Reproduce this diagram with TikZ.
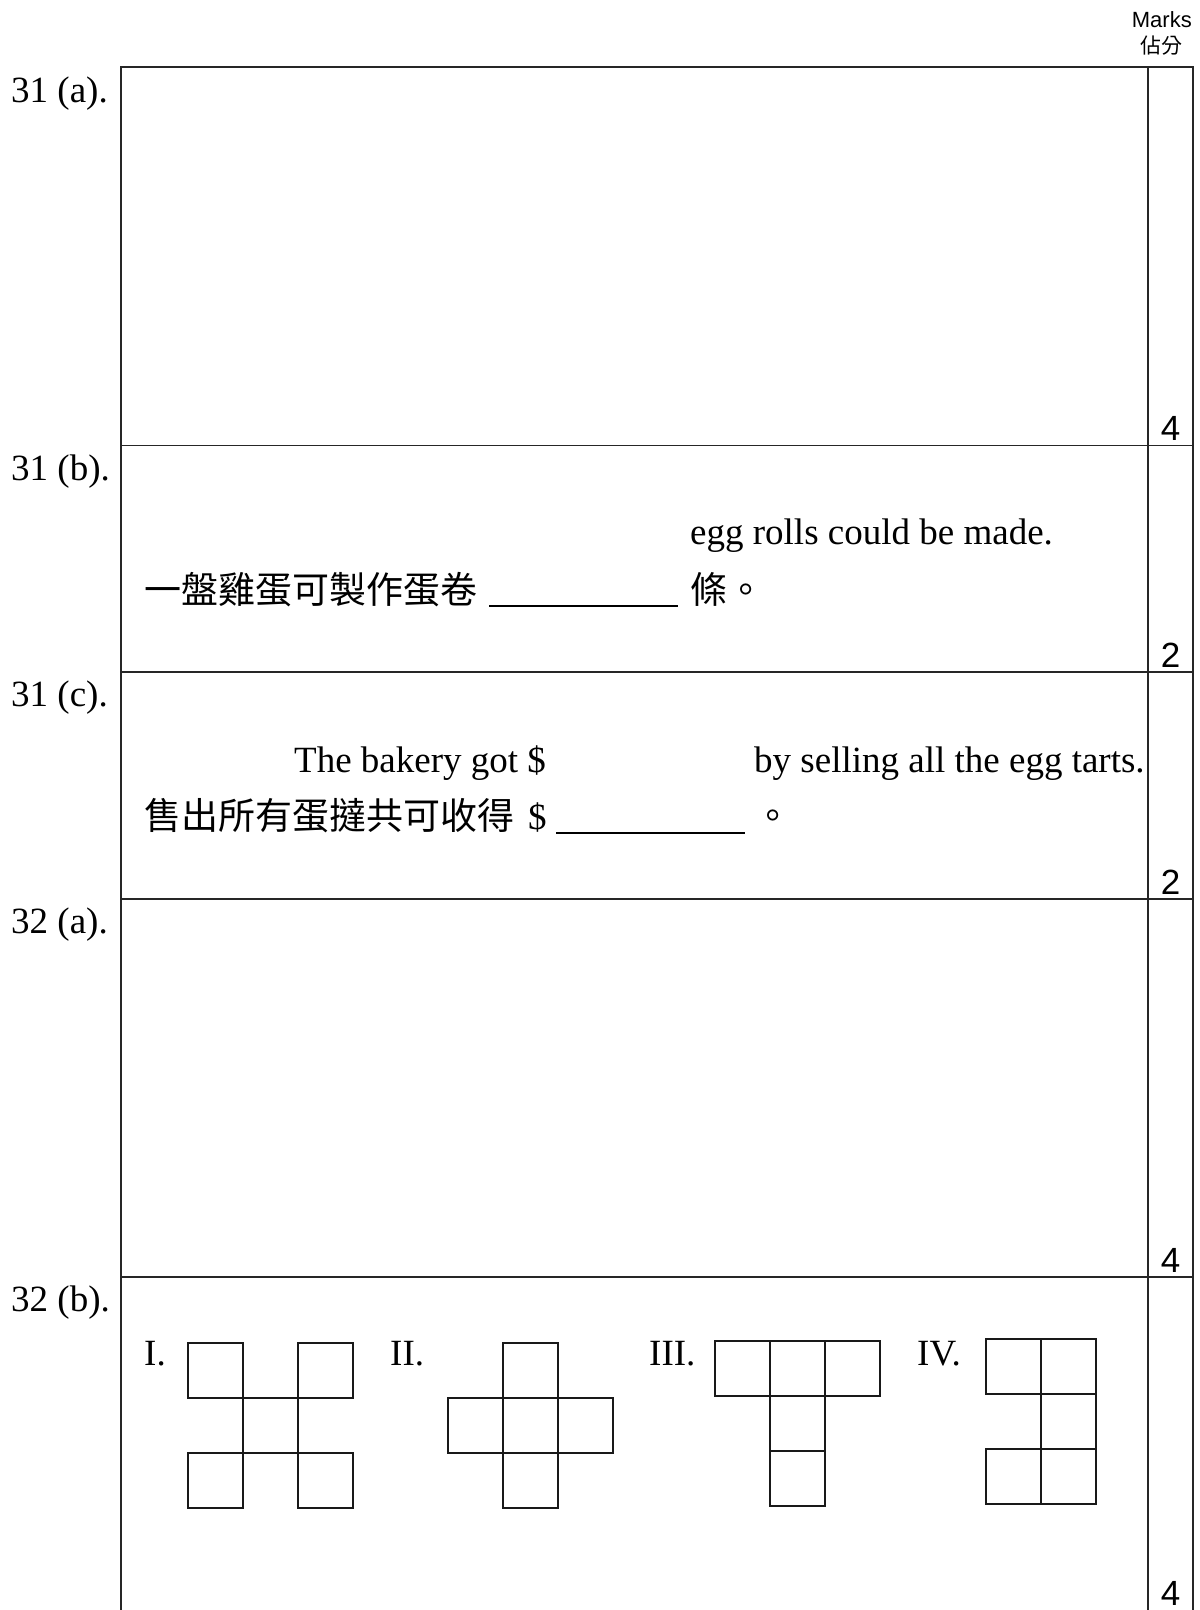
\documentclass[tikz,border=0pt]{standalone}
\usepackage{fontspec}
\setmainfont{Liberation Serif}
\newfontfamily\cjk{Noto Sans CJK TC}
\newfontfamily\marksfont{Liberation Sans}
\usepackage{tikz}
\tikzstyle{frame}=[line width=1.1pt,black!85]
\tikzstyle{net}=[line width=2pt,black!90]
\tikzstyle{txt}=[inner sep=0pt,anchor=base west,font=\fontsize{37}{44}\selectfont]
\tikzstyle{num}=[inner sep=0pt,anchor=base,font=\marksfont\fontsize{35}{42}\selectfont]
\tikzstyle{blank}=[line width=1.3pt]

\begin{document}
\begin{tikzpicture}[x=1pt,y=-1pt]
                    \useasboundingbox (0,0) rectangle (1200,1610);

                    % answer table
                    \draw [frame] (121,1610) -- (121,67) -- (1193,67) -- (1193,1610);
                    \draw [frame] (1148,67) -- (1148,1610);
                    \draw [frame] (121,445.5) -- (1193,445.5);
                    \draw [frame] (121,672) -- (1193,672);
                    \draw [frame] (121,899) -- (1193,899);
                    \draw [frame] (121,1277) -- (1193,1277);

                    \node (marks) at (1192,27) [anchor=base east,inner sep=0pt,font=\marksfont\fontsize{22}{26}\selectfont] {Marks};
                    \node (marksc) at (1161,53) [anchor=base,inner sep=0pt,font=\cjk\fontsize{21}{25}\selectfont] {佔分};

                    \node (q31a) at (11,102) [txt] {31 (a).};
                    \node (q31b) at (11,480) [txt] {31 (b).};
                    \node (q31c) at (11,706) [txt] {31 (c).};
                    \node (q32a) at (11,933) [txt] {32 (a).};
                    \node (q32b) at (11,1311) [txt] {32 (b).};

                    \node (m31a) at (1170.5,440) [num] {4};
                    \node (m31b) at (1170.5,667) [num] {2};
                    \node (m31c) at (1170.5,894) [num] {2};
                    \node (m32a) at (1170.5,1272) [num] {4};
                    \node (m32b) at (1170.5,1605) [num] {4};

                    % 31 (b)
                    \node (rolls) at (690,544) [txt] {egg rolls could be made.};
                    \node (rollsc) at (144,603) [txt,font=\cjk\fontsize{37}{44}\selectfont] {一盤雞蛋可製作蛋卷};
                    \draw [blank] (489,606) -- (678,606);
                    \node (rollsu) at (690,603) [txt,font=\cjk\fontsize{37}{44}\selectfont] {條。};

                    % 31 (c)
                    \node (tarts1) at (294,772) [txt] {The bakery got \$};
                    \node (tarts2) at (754,772) [txt] {by selling all the egg tarts.};
                    \node (tartsc) at (144,829) [txt,font=\cjk\fontsize{37}{44}\selectfont] {售出所有蛋撻共可收得};
                    \node (tartsd) at (528,829) [txt] {\$};
                    \draw [blank] (556,833) -- (745,833);
                    \node (tartse) at (754,829) [txt,font=\cjk\fontsize{37}{44}\selectfont] {。};

                    % 32 (b) nets
                    \node (n1) at (144,1365) [txt] {I.};
                    \node (n2) at (390,1365) [txt] {II.};
                    \node (n3) at (649,1365) [txt] {III.};
                    \node (n4) at (917,1365) [txt] {IV.};

                    \begin{scope}[shift={(188,1343)}]
                        \foreach \c/\r in {0/0,2/0,1/1,0/2,2/2}
                            \draw [net] (\c*55,\r*55) rectangle ++(55,55);
                    \end{scope}
                    \begin{scope}[shift={(447.5,1343)}]
                        \foreach \c/\r in {1/0,0/1,1/1,2/1,1/2}
                            \draw [net] (\c*55,\r*55) rectangle ++(55,55);
                    \end{scope}
                    \begin{scope}[shift={(714.5,1340.5)}]
                        \foreach \c/\r in {0/0,1/0,2/0,1/1,1/2}
                            \draw [net] (\c*55,\r*55) rectangle ++(55,55);
                    \end{scope}
                    \begin{scope}[shift={(985.5,1338.5)}]
                        \foreach \c/\r in {0/0,1/0,1/1,0/2,1/2}
                            \draw [net] (\c*55,\r*55) rectangle ++(55,55);
                    \end{scope}
                \end{tikzpicture}
\end{document}
